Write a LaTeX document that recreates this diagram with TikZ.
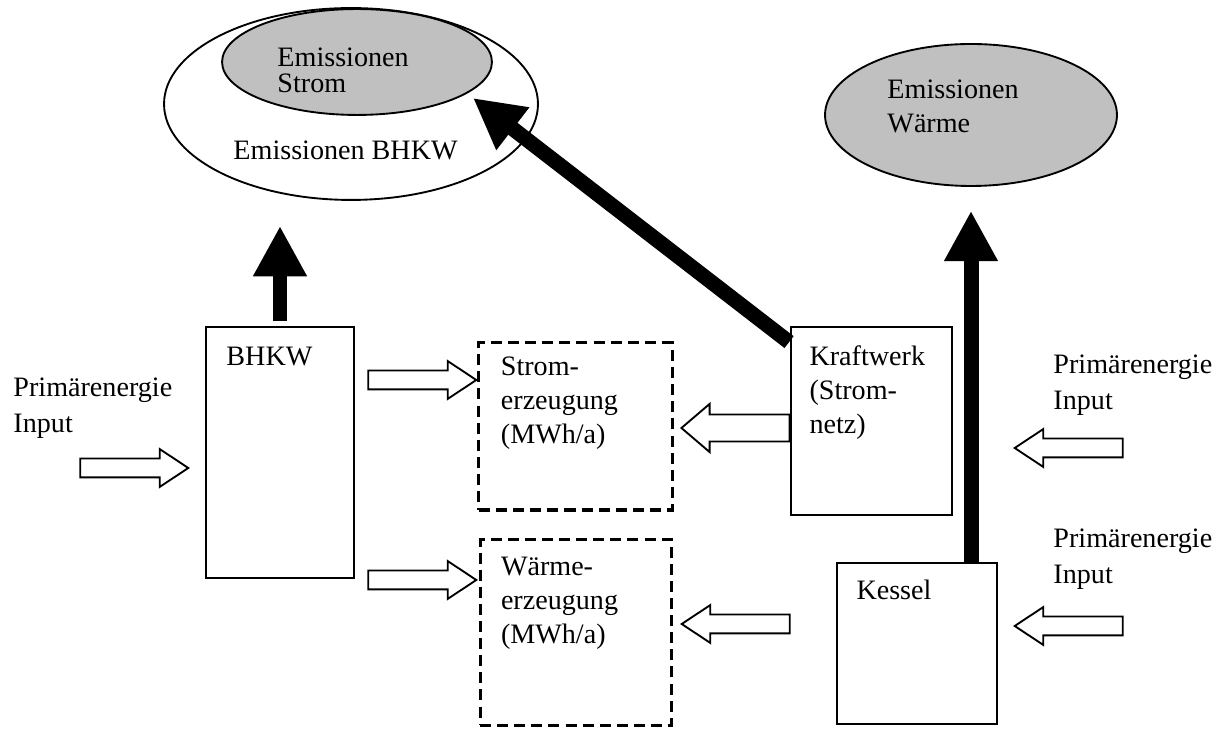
\documentclass[tikz,border=0pt]{standalone}
\usepackage{fontspec}
\setmainfont{Liberation Serif}
\usetikzlibrary{arrows.meta,shapes.geometric,shapes.arrows,positioning}
\definecolor{emgray}{RGB}{192,192,192}

\begin{document}
\begin{tikzpicture}[x=0.4268pt, y=-0.4268pt,
  every node/.style={font=\fontsize{12pt}{14.5pt}\selectfont, inner sep=0pt},
  emission/.style={ellipse, draw, line width=0.8pt},
  unitbox/.style={rectangle, draw, line width=0.8pt},
  outbox/.style={rectangle, draw, line width=1.3pt, dash pattern=on 4.7pt off 2.6pt},
  lbl/.style={align=left, anchor=north west},
  hollow/.style={single arrow, draw, line width=0.8pt, fill=white,
    inner xsep=0pt, inner ysep=3.63pt, minimum height=46.1pt,
    single arrow head extend=4.05pt, single arrow tip angle=67, anchor=tip},
  fat/.style={line width=6.4pt, -{Triangle[length=21.5pt, width=21.5pt]}}]
  \useasboundingbox (0,0) rectangle (1226,736);

  % Emissionen
  \node[emission, minimum width=159.6pt, minimum height=81.9pt] (embhkw) at (351,104) {};
  \node[emission, fill=emgray, minimum width=115.2pt, minimum height=45.2pt] (emstrom) at (357,62) {};
  \node[emission, fill=emgray, minimum width=124.6pt, minimum height=60.6pt] (emwaerme) at (971,115) {};
  \node[lbl, font=\fontsize{12pt}{11.1pt}\selectfont] (tstrom) at (277,47) {Emissionen\\Strom};
  \node[anchor=base west] (tembhkw) at (233,160) {Emissionen BHKW};
  \node[lbl] (twaerme) at (887,79) {Emissionen\\Wärme};

  % Anlagen und Erzeugung
  \node[unitbox, minimum width=63.2pt, minimum height=107.1pt] (bhkw) at (280,452.5) {};
  \node[outbox, minimum width=82.4pt, minimum height=71.3pt] (strom) at (575.5,426.5) {};
  \node[outbox, minimum width=81.9pt, minimum height=79pt] (waerme) at (576,632.5) {};
  \node[unitbox, minimum width=68.7pt, minimum height=80.2pt] (kraftwerk) at (871.5,421) {};
  \node[unitbox, minimum width=68.3pt, minimum height=68.7pt] (kessel) at (917,643.5) {};

  \node[anchor=base west] (tbhkw) at ([shift={(21,39)}]bhkw.north west) {BHKW};
  \node[lbl] (tstromerz) at ([shift={(23,15)}]strom.north west) {Strom-\\erzeugung\\(MWh/a)};
  \node[lbl] (twaermeerz) at ([shift={(22,18)}]waerme.north west) {Wärme-\\erzeugung\\(MWh/a)};
  \node[lbl] (tkw) at ([shift={(19,19)}]kraftwerk.north west) {Kraftwerk\\(Strom-\\netz)};
  \node[anchor=base west] (tkessel) at ([shift={(20,37)}]kessel.north west) {Kessel};

  % Primaerenergie
  \node[lbl, font=\fontsize{12pt}{15.4pt}\selectfont] (pebhkw) at (13,377) {Primärenergie\\Input};
  \node[lbl, font=\fontsize{12pt}{15.4pt}\selectfont] (pekw) at (1053,354) {Primärenergie\\Input};
  \node[lbl, font=\fontsize{12pt}{15.4pt}\selectfont] (pekes) at (1053,528) {Primärenergie\\Input};

  % Energiefluss
  \node[hollow] (inbhkw) at (190,468) {};
  \node[hollow] (bhkwstrom) at (478,380) {};
  \node[hollow] (bhkwwaerme) at (478,580) {};
  \node[hollow, rotate=180, inner ysep=5.35pt, single arrow head extend=4.5pt,
        single arrow tip angle=81] (kwstrom) at (680,428) {};
  \node[hollow, rotate=180] (keswaerme) at (680,624) {};
  \node[hollow, rotate=180] (inkw) at (1013,448) {};
  \node[hollow, rotate=180] (inkes) at (1013,626) {};

  % Emissionsfluss
  \coordinate (emtip) at (473,98);
  \draw[fat] ([shift={(-1,16)}]kraftwerk.north west) -- (emtip);
  \draw[fat, shorten <=2pt, shorten >=10.7pt] (bhkw.north) -- (bhkw.north |- embhkw.south);
  \draw[fat, shorten >=10.2pt] (kessel.north -| emwaerme.south) -- (emwaerme.south);
\end{tikzpicture}
\end{document}
